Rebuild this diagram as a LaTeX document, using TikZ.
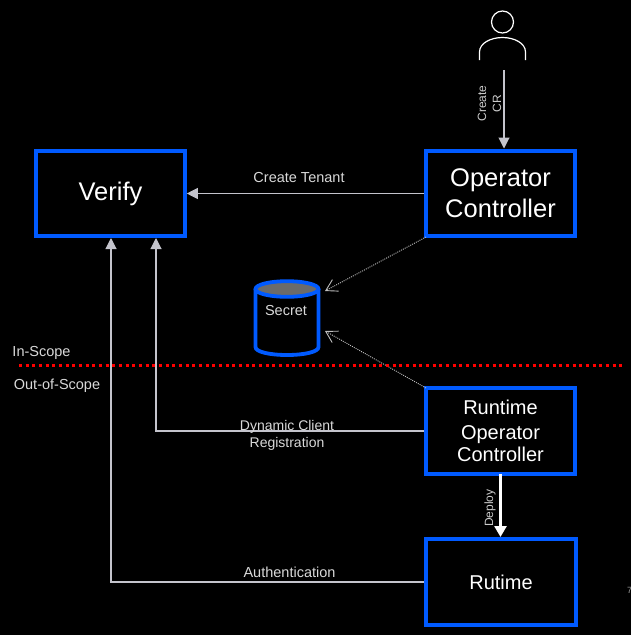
\documentclass[tikz,border=0pt]{standalone}
\usepackage{fontspec}
\setmainfont{Liberation Sans}
\usetikzlibrary{arrows.meta}
\definecolor{boxblue}{HTML}{005AFF}
\definecolor{conn}{HTML}{C4C4CC}
\tikzset{
  bluebox/.style={draw=boxblue,line width=3.6pt,fill=black,text=white,align=center,inner sep=0pt,minimum width=149pt,minimum height=85.5pt},
  big/.style={font=\fontsize{25.5}{31}\selectfont},
  mid/.style={font=\fontsize{20}{23}\selectfont},
  lbl/.style={text=white!85!black,font=\fontsize{14.5}{17}\selectfont,align=center,inner sep=0pt},
  vlbl/.style={text=white!80!black,font=\fontsize{12}{15}\selectfont,align=center,inner sep=0pt,rotate=90},
  conline/.style={draw=conn,line width=1.05pt,-{Triangle[length=11pt,width=11pt,fill=conn]}},
  dotarrow/.style={draw=white!75!black,line width=.9pt,dash pattern=on 1pt off 1.1pt,-{Straight Barb[length=11pt,width=13pt,line width=.9pt]}},
  deployline/.style={draw=white,line width=2.6pt,-{Triangle[length=11pt,width=12pt,fill=white]}},
  personline/.style={draw=white,line width=1.2pt},
  scope line/.style={draw=red,line width=3pt,dash pattern=on 3pt off 3.67pt},
}
\begin{document}
\begin{tikzpicture}[x=1pt,y=-1pt]
\useasboundingbox (0,0) rectangle (631,635);
\fill[black] (0,0) rectangle (631,635);
% scope line
\coordinate (scopeL) at (19,365);
\coordinate (scopeR) at (624,365);
% boxes
\node[bluebox,big] (verify) at (110.5,193.5) {\raisebox{-2.5pt}{Verify}};
\node[bluebox,big] (operator) at (500.5,193.5) {\raisebox{-1pt}{Operator}\\\raisebox{-1pt}{Controller}};
\node[bluebox,mid] (runtime) at (500.5,431) {\raisebox{-2pt}{Runtime}\\[3pt]\raisebox{-1pt}{Operator}\\Controller};
\node[bluebox,mid,minimum width=150pt] (rutime) at (501,582) {Rutime};
% person
\node[circle,personline,minimum size=22pt,inner sep=0pt] (head) at (502.5,22) {};
\draw[personline] (479.5,60) -- (479.5,52) .. controls (479.5,43) and (491,37.5) .. (502.5,37.5) .. controls (514,37.5) and (525.5,43) .. (525.5,52) -- (525.5,60);
% cylinder
\draw[boxblue,line width=3.8pt,fill=black] (255.5,289) -- (255.5,347) .. controls (255.5,352) and (270,355) .. (287,355) .. controls (304,355) and (318.5,352) .. (318.5,347) -- (318.5,289);
\draw[boxblue,line width=3.8pt,fill=white!42!black] (287,289) ellipse [x radius=31.5pt,y radius=7.8pt];
\node[lbl] (secret) at (286,311) {Secret};
% anchors for free ends
\coordinate (userStart) at (504,70);
\coordinate (opTop) at (504,148.5);
\coordinate (verifyA) at (111,238);
\coordinate (verifyB) at (156,238);
\coordinate (secretA) at (325,291);
\coordinate (secretB) at (325,331);
\coordinate (opOut) at (426,237);
\coordinate (rtOut) at (426,388);
\coordinate (rtBottom) at (500.5,474);
\coordinate (rutTop) at (500.5,537);
% connectors
\draw[conline] (userStart) -- (opTop);
\draw[conline] (operator.west) -- (verify.east);
\draw[conline] (runtime.west) -| (verifyB);
\draw[conline] (rutime.west) -| (verifyA);
\draw[dotarrow] (opOut) -- (secretA);
\draw[dotarrow] (rtOut) -- (secretB);
\draw[deployline] (rtBottom) -- (rutTop);
\draw[scope line] (scopeL) -- (scopeR);
% labels
\node[lbl] (l1) at (299,178) {Create Tenant};
\node[lbl,font=\fontsize{14}{17}\selectfont] (l2) at (287,435.5) {Dynamic Client\\Registration};
\node[lbl] (l3) at (289.5,572.5) {Authentication};
\node[lbl] (l4) at (41.5,353) {In-Scope};
\node[lbl] (l5) at (57,386) {Out-of-Scope};
\node[vlbl] (l6) at (489.5,103.5) {Create\\CR};
\node[vlbl] (l7) at (490,508) {Deploy};
\node[text=white!60!black,font=\fontsize{9}{9}\selectfont,inner sep=0pt,anchor=west] (l8) at (627,590) {7};
\end{tikzpicture}
\end{document}
